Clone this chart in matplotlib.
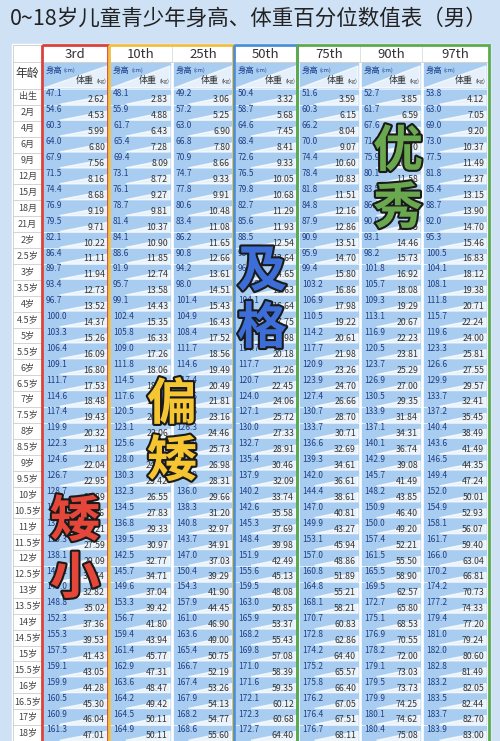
import matplotlib.pyplot as plt
import matplotlib.patheffects as pe
from matplotlib.patches import Rectangle, Polygon

plt.rcParams['font.family'] = ['Noto Sans CJK SC', 'DejaVu Sans']

title = '0~18岁儿童青少年身高、体重百分位数值表（男）'
ages = ['出生', '2月', '4月', '6月', '9月', '12月', '15月', '18月', '21月',
        '2岁', '2.5岁', '3岁', '3.5岁', '4岁', '4.5岁', '5岁', '5.5岁', '6岁',
        '6.5岁', '7岁', '7.5岁', '8岁', '8.5岁', '9岁', '9.5岁', '10岁', '10.5岁',
        '11岁', '11.5岁', '12岁', '12.5岁', '13岁', '13.5岁', '14岁', '14.5岁',
        '15岁', '15.5岁', '16岁', '16.5岁', '17岁', '18岁']
percentiles = ['3rd', '10th', '25th', '50th', '75th', '90th', '97th']

h3 = [47.1, 54.6, 60.3, 64.0, 67.9, 71.5, 74.4, 76.9, 79.5, 82.1, 86.4, 89.7, 93.4, 96.7, 100.0, 103.3, 106.4, 109.1, 111.7, 114.6, 117.4, 119.9, 122.3, 124.6, 126.7, 128.7, 130.7, 132.9, 135.3, 138.1, 141.1, 145.0, 148.8, 152.3, 155.3, 157.5, 159.1, 159.9, 160.5, 160.9, 161.3]
w3 = [2.62, 4.53, 5.99, 6.80, 7.56, 8.16, 8.68, 9.19, 9.71, 10.22, 11.11, 11.94, 12.73, 13.52, 14.37, 15.26, 16.09, 16.80, 17.53, 18.48, 19.43, 20.32, 21.18, 22.04, 22.95, 23.89, 24.96, 26.21, 27.59, 29.09, 30.74, 32.82, 35.02, 37.36, 39.53, 41.43, 43.05, 44.28, 45.30, 46.04, 47.01]
h10 = [48.1, 55.9, 61.7, 65.4, 69.4, 73.1, 76.1, 78.7, 81.4, 84.1, 88.6, 91.9, 95.7, 99.1, 102.4, 105.8, 109.0, 111.8, 114.5, 117.6, 120.5, 123.1, 125.6, 128.0, 130.3, 132.3, 134.5, 136.8, 139.5, 142.5, 145.7, 149.6, 153.3, 156.7, 159.4, 161.4, 162.9, 163.6, 164.2, 164.5, 164.9]
w10 = [2.83, 4.88, 6.43, 7.28, 8.09, 8.72, 9.27, 9.81, 10.37, 10.90, 11.85, 12.74, 13.58, 14.43, 15.35, 16.33, 17.26, 18.06, 18.92, 19.94, 20.98, 22.06, 23.17, 24.27, 25.42, 26.55, 27.83, 29.33, 30.97, 32.77, 34.71, 37.04, 39.42, 41.80, 43.94, 45.77, 47.31, 48.47, 49.42, 50.11, 50.11]
h25 = [49.2, 57.2, 63.0, 66.8, 70.9, 74.7, 77.8, 80.6, 83.4, 86.2, 90.8, 94.2, 98.0, 101.4, 104.9, 108.4, 111.7, 114.6, 117.4, 120.6, 123.6, 126.3, 129.0, 131.4, 133.9, 136.0, 138.3, 140.8, 143.7, 147.0, 150.4, 154.3, 157.9, 161.0, 163.6, 165.4, 166.7, 167.4, 167.9, 168.2, 168.6]
w25 = [3.06, 5.25, 6.90, 7.80, 8.66, 9.33, 9.91, 10.48, 11.08, 11.65, 12.66, 13.61, 14.51, 15.43, 16.43, 17.52, 18.56, 19.49, 20.49, 21.81, 23.16, 24.46, 25.73, 26.98, 28.31, 29.66, 31.20, 32.97, 34.91, 37.03, 39.29, 41.90, 44.45, 46.90, 49.00, 50.75, 52.19, 53.26, 54.13, 54.77, 55.60]
h50 = [50.4, 58.7, 64.6, 68.4, 72.6, 76.5, 79.8, 82.7, 85.6, 88.5, 93.3, 96.8, 100.6, 104.1, 107.7, 111.3, 114.7, 117.7, 120.7, 124.0, 127.1, 130.0, 132.7, 135.4, 137.9, 140.2, 142.6, 145.3, 148.4, 151.9, 155.6, 159.5, 163.0, 165.9, 168.2, 169.8, 171.0, 171.6, 172.1, 172.3, 172.7]
w50 = [3.32, 5.68, 7.45, 8.41, 9.33, 10.05, 10.68, 11.29, 11.93, 12.54, 13.64, 14.65, 15.63, 16.64, 17.75, 18.98, 20.18, 21.26, 22.45, 24.06, 25.72, 27.33, 28.91, 30.46, 32.09, 33.74, 35.58, 37.69, 39.98, 42.49, 45.13, 48.08, 50.85, 53.37, 55.43, 57.08, 58.39, 59.35, 60.12, 60.68, 64.40]
h75 = [51.6, 60.3, 66.2, 70.0, 74.4, 78.4, 81.8, 84.8, 87.9, 90.9, 95.9, 99.4, 103.2, 106.9, 110.5, 114.2, 117.7, 120.9, 123.9, 127.4, 130.7, 133.7, 136.6, 139.3, 142.0, 144.4, 147.0, 149.9, 153.1, 157.0, 160.8, 164.8, 168.1, 170.7, 172.8, 174.2, 175.2, 175.8, 176.2, 176.4, 176.7]
w75 = [3.59, 6.15, 8.04, 9.07, 10.6, 10.83, 11.51, 12.16, 12.86, 13.51, 14.70, 15.80, 16.86, 17.98, 19.22, 20.61, 21.98, 23.26, 24.70, 26.66, 28.70, 30.71, 32.69, 34.61, 36.61, 38.61, 40.81, 43.27, 45.94, 48.86, 51.89, 55.21, 58.21, 60.83, 62.86, 64.40, 65.57, 66.40, 67.05, 67.51, 68.11]
h90 = [52.7, 61.7, 67.6, 71.6, 75.9, 80.1, 83.5, 86.6, 90.0, 93.1, 98.2, 101.8, 105.7, 109.3, 113.1, 116.9, 120.5, 123.7, 126.9, 130.5, 133.9, 137.1, 140.1, 142.9, 145.7, 148.2, 150.9, 150.0, 157.4, 161.5, 165.5, 169.5, 172.7, 175.1, 176.9, 178.2, 179.1, 179.5, 179.9, 180.1, 180.4]
w90 = [3.85, 6.59, 8.61, 9.70, 10.75, 11.58, 12.30, 13.01, 13.75, 14.46, 15.73, 16.92, 18.08, 19.29, 20.67, 22.23, 23.81, 25.29, 27.00, 29.35, 31.84, 34.31, 36.74, 39.08, 41.49, 43.85, 46.40, 49.20, 52.21, 55.50, 58.90, 62.57, 65.80, 68.53, 70.55, 72.00, 73.03, 73.73, 74.25, 74.62, 75.08]
h97 = [53.8, 63.0, 69.0, 73.0, 77.5, 81.8, 85.4, 88.7, 92.0, 95.3, 100.5, 104.1, 108.1, 111.8, 115.7, 119.6, 123.3, 126.6, 129.9, 133.7, 137.2, 140.4, 143.6, 146.5, 149.4, 152.0, 154.9, 158.1, 161.7, 166.0, 170.2, 174.2, 177.2, 179.4, 181.0, 182.0, 182.8, 183.2, 183.5, 183.7, 183.9]
w97 = [4.12, 7.05, 9.20, 10.37, 11.49, 12.37, 13.15, 13.90, 14.70, 15.46, 16.83, 18.12, 19.38, 20.71, 22.24, 24.00, 25.81, 27.55, 29.57, 32.41, 35.45, 38.49, 41.49, 44.35, 47.24, 50.01, 52.93, 56.07, 59.40, 63.04, 66.81, 70.73, 74.33, 77.20, 79.24, 80.60, 81.49, 82.05, 82.44, 82.70, 83.00]

heights = [h3, h10, h25, h50, h75, h90, h97]
weights = [w3, w10, w25, w50, w75, w90, w97]

fig = plt.figure(figsize=(5.0, 7.41), dpi=100)
ax = fig.add_axes([0, 0, 1, 1])
ax.set_xlim(0, 500)
ax.set_ylim(741, 0)
ax.axis('off')

# background
ax.add_patch(Rectangle((0, 0), 500, 741, color='#cfe1f5', zorder=0))
ax.add_patch(Rectangle((12, 44), 478, 700, color='white', zorder=0.5))
ax.text(10, 19, title, fontsize=15.5, va='center', ha='left', color='#222222')

col_x = [42, 109, 172, 234, 298, 360, 422, 488]
age_x0 = 13
row_top = 89
row_h = 15.9
head_top = 45
head_mid = 62

# header
for i, p in enumerate(percentiles):
    x0, x1 = col_x[i], col_x[i + 1]
    ax.text((x0 + x1) / 2, (head_top + head_mid) / 2 + 1, p, ha='center', va='center', fontsize=9.5, color='#333333')
    ax.add_patch(Rectangle((x0 + 2, head_mid + 1), x1 - x0 - 4, row_top - head_mid - 2, color='#a9cdf0', zorder=1))
    ax.add_patch(Polygon([(x0 + 2, row_top - 1), (x1 - 2, head_mid + 4), (x1 - 2, row_top - 1)],
                         color='white', alpha=0.7, zorder=1.1))
    ax.text(x0 + 4, head_mid + 8, '身高', fontsize=6, color='#1a3f8a', va='center', ha='left', zorder=3)
    ax.text(x0 + 22, head_mid + 8, '(cm)', fontsize=4, color='#1a3f8a', va='center', ha='left', zorder=3)
    ax.text(x1 - 15, row_top - 8, '体重', fontsize=6.5, color='#333333', va='center', ha='right', zorder=3)
    ax.text(x1 - 3, row_top - 8, '(kg)', fontsize=4, color='#333333', va='center', ha='right', zorder=3)
ax.text((age_x0 + col_x[0]) / 2, (head_mid + row_top) / 2 - 2, '年龄', ha='center', va='center', fontsize=8.5, color='#333333')
ax.plot([age_x0, col_x[-1]], [head_mid, head_mid], color='#cccccc', lw=0.6)
ax.plot([age_x0, col_x[0]], [row_top, row_top], color='#cccccc', lw=0.6)

# body
for r, age in enumerate(ages):
    y0 = row_top + r * row_h
    y1 = y0 + row_h
    ax.text((age_x0 + col_x[0]) / 2, (y0 + y1) / 2, age, ha='center', va='center', fontsize=6.5, color='#444444')
    ax.plot([age_x0, col_x[0]], [y1, y1], color='#cccccc', lw=0.6)
    for i in range(len(percentiles)):
        x0, x1 = col_x[i] + 2, col_x[i + 1] - 2
        ax.add_patch(Rectangle((x0, y0 + 0.6), x1 - x0, row_h - 1.2, color='#a9cdf0', zorder=1))
        ax.add_patch(Polygon([(x0 + 0.25 * (x1 - x0), y1 - 0.6), (x1, y0 + 0.4 * row_h), (x1, y1 - 0.6)],
                             color='white', alpha=0.75, zorder=1.1))
        ax.text(x0 + 2, y0 + 5, f'{heights[i][r]:.1f}', fontsize=6, color='#1f3f86', va='center', ha='left', zorder=3)
        ax.text(x1 - 2, y1 - 5, f'{weights[i][r]:.2f}', fontsize=6.3, color='#333333', va='center', ha='right', zorder=3)

for x in [age_x0, col_x[0]]:
    ax.plot([x, x], [head_top, 741], color='#cccccc', lw=0.6)
ax.plot([age_x0, col_x[0]], [head_top, head_top], color='#cccccc', lw=0.6)
for x in col_x[1:-1]:
    ax.plot([x, x], [head_top, head_mid], color='#dddddd', lw=0.6)

# group frames
frames = [(42, 108, '#d9423a'), (109, 233, '#f0c040'), (234, 297, '#4a8fd8'), (297, 489, '#5bab4c')]
for x0, x1, c in frames:
    ax.add_patch(Rectangle((x0, head_top), x1 - x0, 741 - head_top + 2, fill=False, ec=c, lw=2, zorder=4))

# overlay labels
labels = [('矮小', 75, 522, '#e4463a'), ('偏矮', 172, 405, '#f5c632'), ('及格', 262, 272, '#3d6ed8'), ('优秀', 398, 152, '#6aa84f')]
for text, x, y, c in labels:
    for k, ch in enumerate(text):
        t = ax.text(x, y + k * 57, ch, fontsize=36, fontweight='bold', color=c, ha='center', va='center', zorder=5)
        t.set_path_effects([pe.Stroke(linewidth=3, foreground='#1a1a1a'), pe.Normal()])

fig.savefig('out.png', dpi=100)
